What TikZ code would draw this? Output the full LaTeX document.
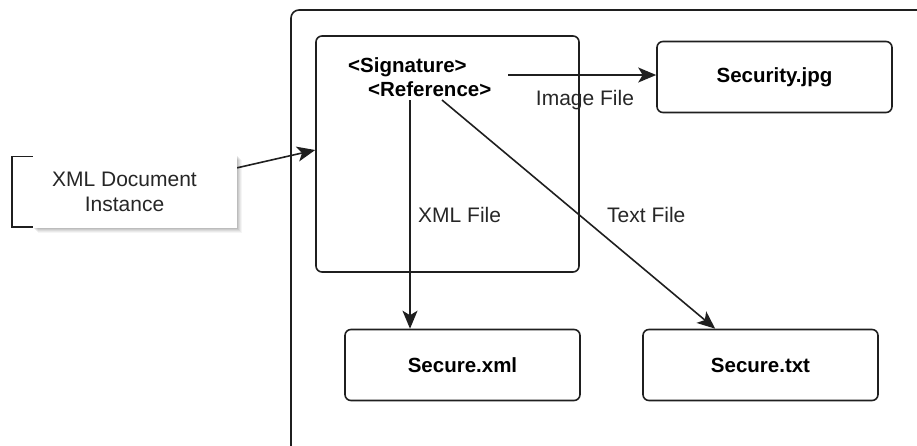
\documentclass[tikz,border=0pt]{standalone}
\usepackage{fontspec}
\setmainfont{Liberation Sans}
\usetikzlibrary{arrows.meta,calc}
\tikzset{
  line/.style={draw=black!88, line width=1.6pt},
  filebox/.style={line, rounded corners=6pt, minimum width=235pt, minimum height=71pt,
    font=\fontsize{20.5}{23}\selectfont\bfseries, inner sep=0pt},
  lbl/.style={font=\fontsize{21}{25}\selectfont, inner sep=0pt, text=black!85},
  tag/.style={font=\fontsize{20.5}{23}\selectfont\bfseries, inner sep=0pt, anchor=west},
  arr/.style={line, -{Stealth[length=18pt,width=15pt,inset=4.5pt]}},
}
\begin{document}
\begin{tikzpicture}[x=1pt,y=-1pt]
\useasboundingbox (0,0) rectangle (917,445);
\begin{scope}
  \clip (0,0) rectangle (917,445);
  % outer container, running past the right and bottom edges
  \draw[line, rounded corners=8pt] (291,10) rectangle (960,480);

  % signature element
  \node[line, rounded corners=6pt, minimum width=263pt, minimum height=236pt, inner sep=0pt]
    (sig) at (447.5,154) {};
  \node[tag] (sigtxt) at (348,67) {<Signature>};
  \node[tag] (reftxt) at (368,89) {<Reference>};

  % referenced files
  \node[filebox] (jpg) at (774.5,77) {Security.jpg};
  \node[filebox] (xml) at (462.5,365) {Secure.xml};
  \node[filebox] (txt) at (760.5,365) {Secure.txt};

  % document annotation with soft shadow
  \foreach \s/\o in {5/0.04,4/0.05,3/0.06,2/0.07,1/0.08}
    \fill[black, opacity=\o] (33+\s,155+\s) rectangle (237+\s,228+\s);
  \fill[white] (33,155) rectangle (237,228);
  \node[minimum width=225pt, minimum height=73pt, inner sep=0pt, align=center,
        font=\fontsize{21}{25}\selectfont, text=black!85]
    (doc) at (124.5,191.5) {XML Document\\Instance};
  \draw[line] ($(doc.north west)+(21,1.5)$) -- ($(doc.north west)+(0,1.5)$)
     -- ($(doc.south west)+(0,-1.5)$) -- ($(doc.south west)+(21,-1.5)$);

  % connectors
  \coordinate (imgstart) at (508,75);
  \coordinate (xmlstart) at (410,100);
  \coordinate (txtstart) at (442,100);
  \coordinate (txtend) at ($(txt.north west)+(73,0)$);
  \draw[arr] ($(doc.north east)+(0,13)$) -- ($(sig.west)+(0,-4)$);
  \draw[arr] (imgstart) -- (imgstart -| jpg.west);
  \draw[arr] (xmlstart) -- (xmlstart |- xml.north);
  \draw[arr] (txtstart) -- (txtend);

  % connector labels
  \node[lbl] (imglbl) at (585,100) {Image File};
  \node[lbl, anchor=west] (xmllbl) at (418,215) {XML File};
  \node[lbl, anchor=west] (txtlbl) at (607,215) {Text File};
\end{scope}
\end{tikzpicture}
\end{document}
